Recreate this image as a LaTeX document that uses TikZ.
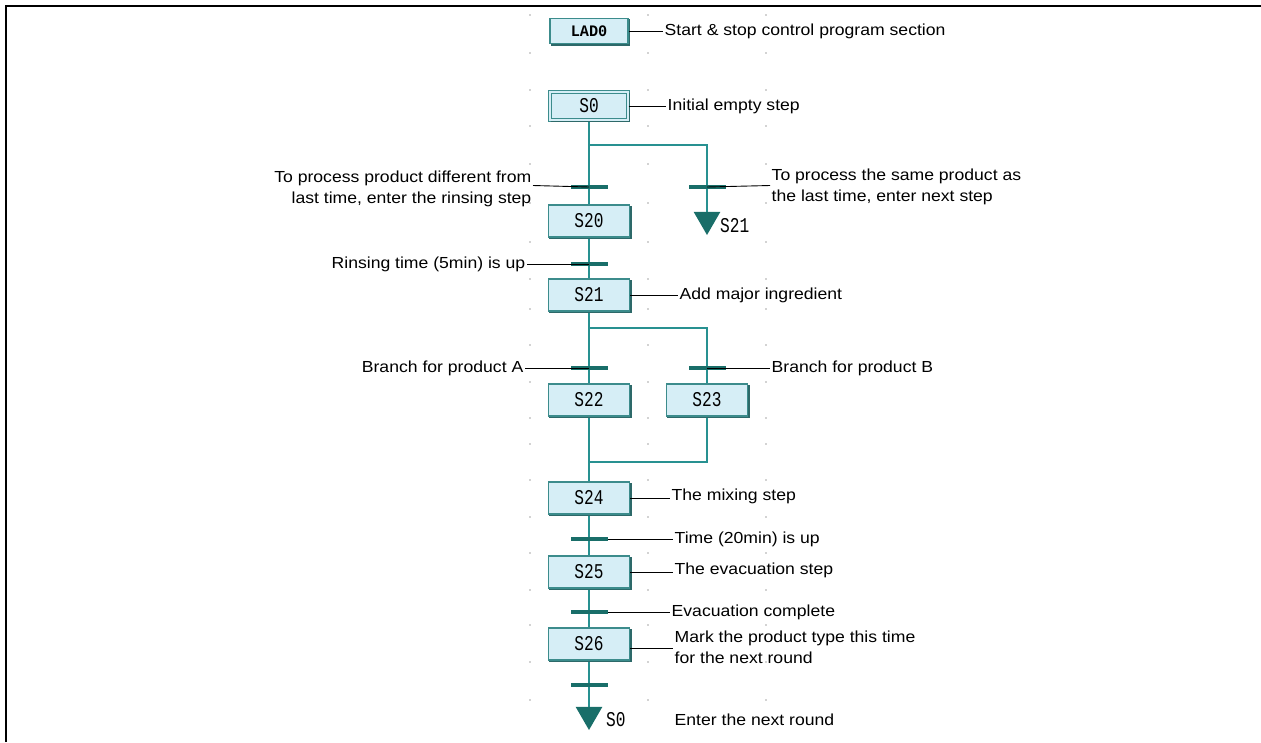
\documentclass[tikz,border=0pt]{standalone}
\usepackage{fontspec}
\setmainfont{Liberation Sans}[FakeStretch=1.1]
\newfontfamily\boxfont{Liberation Mono}[FakeStretch=0.77]
\newfontfamily\ladfont{Liberation Mono}[FakeStretch=0.95]
\usetikzlibrary{shapes.geometric}
\pgfdeclarelayer{bg}
\pgfsetlayers{bg,main}
\definecolor{boxfill}{RGB}{214,238,246}
\definecolor{boxline}{RGB}{60,140,140}
\definecolor{shadowcol}{RGB}{45,105,105}
\definecolor{wire}{RGB}{40,145,145}
\definecolor{barcol}{RGB}{25,110,105}
\definecolor{dotcol}{RGB}{165,165,165}
\tikzset{
  stepbox/.style={draw=boxline, fill=boxfill, line width=1.1pt, minimum width=81pt, minimum height=32pt, inner sep=0pt, font=\boxfont\fontsize{21}{21}\selectfont},
  ladbox/.style={draw=boxline, fill=boxfill, line width=1.1pt, minimum width=78pt, minimum height=25pt, inner sep=0pt, font=\ladfont\bfseries\fontsize{16}{16}\selectfont},
  initbox/.style={stepbox, double=boxfill, double distance=1.6pt, minimum width=78pt, minimum height=28pt},
  trans/.style={fill=barcol, draw=none, minimum width=37pt, minimum height=4.5pt, inner sep=0pt},
  jump/.style={regular polygon, regular polygon sides=3, shape border rotate=180, fill=barcol, draw=none, minimum size=31pt, inner sep=0pt},
  jumplab/.style={inner sep=0pt, font=\boxfont\fontsize{21}{21}\selectfont},
  lab/.style={inner sep=1.5pt, font=\fontsize{16}{21}\selectfont},
  wireln/.style={draw=wire, line width=1.6pt},
  leader/.style={draw=black, line width=0.9pt},
  shadowln/.style={draw=shadowcol, line width=1.4pt},
}
\begin{document}
\begin{tikzpicture}[x=1pt, y=-1pt]
\useasboundingbox (0,0) rectangle (1261,742);
% grid dots
\foreach \yy in {15,53,90,126,164,203,242,279,309,345,382,418,444,480,517,553,590,625,662,700}
  \foreach \xx in {530,648,766}
    \fill[dotcol] (\xx,\yy) circle (0.8pt);
% frame
\draw[line width=2.4pt] (6,742) -- (6,6) -- (1261,6);

% steps
\node[ladbox] (lad0) at (589,31) {LAD0};
\node[initbox] (s0) at (589,106) {S0};
\node[stepbox] (s20) at (589,221) {S20};
\node[stepbox] (s21) at (589,295) {S21};
\node[stepbox] (s22) at (589,400) {S22};
\node[stepbox] (s23) at (707,400) {S23};
\node[stepbox] (s24) at (589,498) {S24};
\node[stepbox] (s25) at (589,572) {S25};
\node[stepbox] (s26) at (589,644) {S26};
\foreach \n in {lad0,s0,s20,s21,s22,s23,s24,s25,s26}
  \draw[shadowln] ([shift={(1.5pt,-0.8pt)}]\n.south west) -- ([shift={(0.8pt,-0.8pt)}]\n.south east) -- ([shift={(0.8pt,-1.5pt)}]\n.north east);

% transitions
\node[trans] (t1) at (589,187) {};
\node[trans] (t2) at (707,187) {};
\node[trans] (t3) at (589,264) {};
\node[trans] (t4) at (589,368) {};
\node[trans] (t5) at (707,368) {};
\node[trans] (t6) at (589,539) {};
\node[trans] (t7) at (589,612) {};
\node[trans] (t8) at (589,685) {};

% jumps
\node[jump] (j1) at (707,219.5) {};
\node[jumplab, anchor=west] (j1l) at (720,226) {S21};
\node[jump] (j2) at (589,714.5) {};
\node[jumplab, anchor=west] (j2l) at (606,720) {S0};

% junction coordinates
\coordinate (b1) at (589,145);
\coordinate (b2) at (589,328);
\coordinate (m2) at (589,462);

\begin{pgfonlayer}{bg}
\draw[wireln] (s0.south) -- (t1.center) -- (s20.north);
\draw[wireln] (b1) -| (t2.center) -- (j1.center);
\draw[wireln] (s20.south) -- (t3.center) -- (s21.north);
\draw[wireln] (s21.south) -- (t4.center) -- (s22.north);
\draw[wireln] (b2) -| (t5.center) -- (s23.north);
\draw[wireln] (s22.south) -- (s24.north);
\draw[wireln] (s23.south) |- (m2);
\draw[wireln] (s24.south) -- (t6.center) -- (s25.north);
\draw[wireln] (s25.south) -- (t7.center) -- (s26.north);
\draw[wireln] (s26.south) -- (t8.center) -- (j2.center);
\end{pgfonlayer}

% labels
\node[lab, anchor=west] (llad) at (663,31) {Start \& stop control program section};
\node[lab, anchor=west] (ls0) at (666,106) {Initial empty step};
\node[lab, anchor=east, align=right] (lt1) at (533,188.5) {To process product different from\\last time, enter the rinsing step};
\node[lab, anchor=west, align=left] (lt2) at (770,187) {To process the same product as\\the last time, enter next step};
\node[lab, anchor=east] (lt3) at (527,264) {Rinsing time (5min) is up};
\node[lab, anchor=west] (ls21) at (678,295) {Add major ingredient};
\node[lab, anchor=east] (lt4) at (525,368) {Branch for product A};
\node[lab, anchor=west] (lt5) at (770,368) {Branch for product B};
\node[lab, anchor=west] (ls24) at (670,496) {The mixing step};
\node[lab, anchor=west] (lt6) at (673,539) {Time (20min) is up};
\node[lab, anchor=west] (ls25) at (673,570) {The evacuation step};
\node[lab, anchor=west] (lt7) at (670,612) {Evacuation complete};
\node[lab, anchor=west, align=left] (ls26) at (673,647) {Mark the product type this time\\for the next round};
\node[lab, anchor=west] (lend) at (673,720) {Enter the next round};

% leaders
\draw[leader] (lad0.east) -- (lad0.east -| llad.west);
\draw[leader] (s0.east) -- (s0.east -| ls0.west);
\draw[leader] (t1.center) -- ([yshift=1.5pt]t1.center -| lt1.east);
\draw[leader] (t2.center) -- ([yshift=1.5pt]t2.center -| lt2.west);
\draw[leader] (t3.center) -- (t3.center -| lt3.east);
\draw[leader] (s21.east) -- (s21.east -| ls21.west);
\draw[leader] (t4.center) -- (t4.center -| lt4.east);
\draw[leader] (t5.center) -- (t5.center -| lt5.west);
\draw[leader] (s24.east) -- (s24.east -| ls24.west);
\draw[leader] (t6.east) -- (t6.east -| lt6.west);
\draw[leader] (s25.east) -- (s25.east -| ls25.west);
\draw[leader] (t7.east) -- (t7.east -| lt7.west);
\draw[leader] ([yshift=-4pt]s26.east) -- ([yshift=-4pt]s26.east -| ls26.west);
\end{tikzpicture}
\end{document}
